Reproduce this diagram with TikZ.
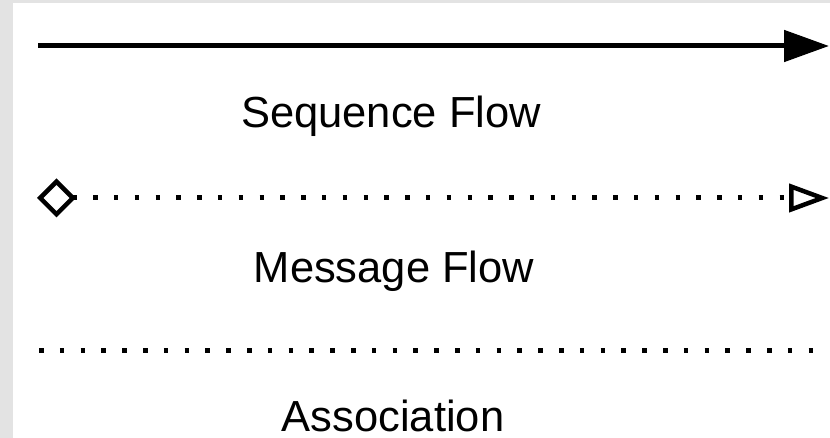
\documentclass[tikz,border=0pt]{standalone}
\usepackage{fontspec}
\setmainfont{Liberation Sans}
\usetikzlibrary{arrows.meta}

\tikzset{
  flowlabel/.style={anchor=base, inner sep=0pt, font=\fontsize{43.5}{50}\selectfont},
  dotline/.style={line width=5pt, dash pattern=on 4.5pt off 16.3pt}
}

\begin{document}
\begin{tikzpicture}[x=1pt,y=-1pt]

\fill[gray!22] (0,0) rectangle (830,438);
\fill[white] (13,3) rectangle (830,438);
\useasboundingbox (0,0) rectangle (830,438);

\coordinate (seqA) at (38,46);
\coordinate (seqB) at (829,46);
\draw[line width=5pt, -{Triangle[length=45pt,width=31pt]}] (seqA) -- (seqB);
\node[flowlabel] (seqlabel) at (391,128)
{Sequence Flow};

\coordinate (msgA) at (37,198);
\coordinate (msgB) at (829,198);
\draw[dotline,
  {Diamond[open,length=39pt,width=39pt,line width=4.5pt]}-{Triangle[open,length=40pt,width=28pt,line width=4.5pt]}]
  (msgA) -- (msgB);
\node[flowlabel] (msglabel) at (394,283)
{Message Flow};

\coordinate (assA) at (39,350);
\coordinate (assB) at (814,350);
\draw[dotline] (assA) -- (assB);
\node[flowlabel] (asslabel) at (393,431)
{Association};

\end{tikzpicture}
\end{document}
